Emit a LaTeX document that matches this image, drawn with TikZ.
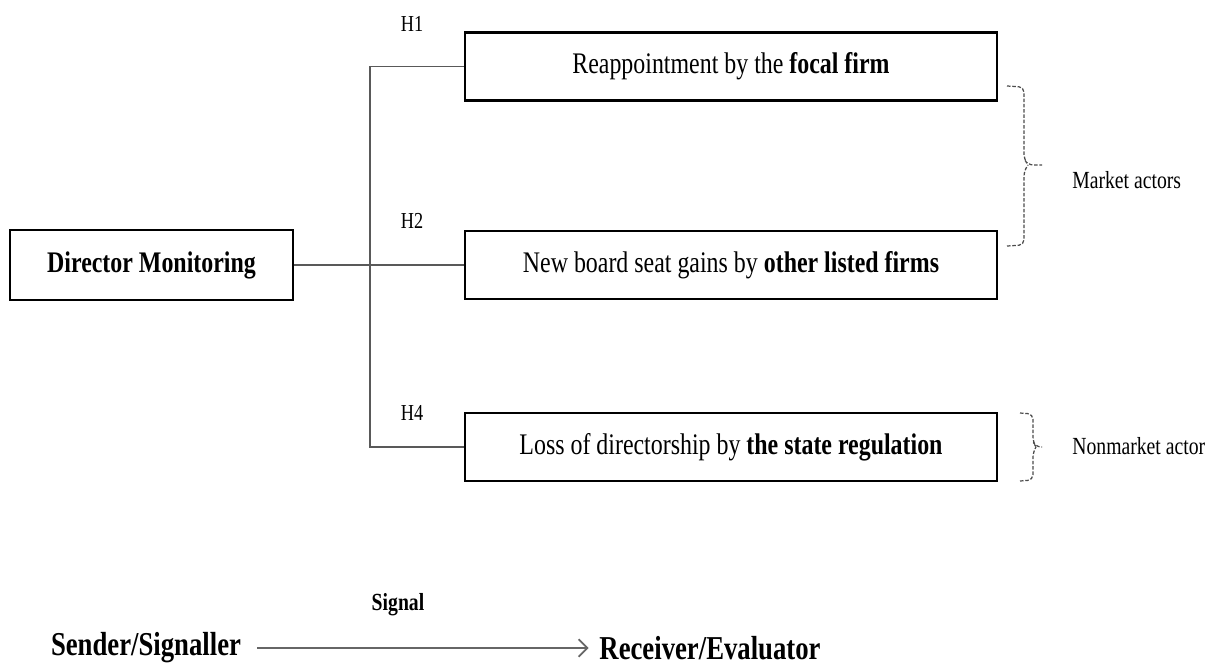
\documentclass[tikz,border=0pt]{standalone}
\usepackage{fontspec}
\setmainfont{Liberation Serif}[FakeStretch=0.8]
\usepackage{tikz}
\usetikzlibrary{positioning,arrows.meta}
\newcommand{\boxsize}{\fontsize{17}{20}\selectfont}
\newcommand{\hypsize}{\fontsize{13}{15}\selectfont}
\newcommand{\actorsize}{\fontsize{14}{16}\selectfont}
\newcommand{\partysize}{\fontsize{19}{22}\selectfont}

\begin{document}
\begin{tikzpicture}[
  box/.style={draw, line width=1.3pt, minimum height=1.36cm, align=center, font=\boxsize, inner sep=0pt},
  outcome/.style={box, minimum width=10.64cm},
  hyp/.style={font=\hypsize, inner sep=0pt},
  link/.style={draw=black!65, line width=0.7pt},
  actorbrace/.style={draw=black!70, dash pattern=on 2pt off 1pt, line width=0.7pt, rounded corners=3pt},
  actor/.style={font=\actorsize, anchor=west, inner sep=0pt},
  party/.style={font=\bfseries\partysize, inner sep=0pt},
  arrow/.style={-{Straight Barb[length=5pt, width=10pt]}, black!60, line width=1pt},
]
\useasboundingbox (0,0) rectangle (24.38,-13.38);

% Sender and the three outcomes
\node[box, minimum width=5.66cm, minimum height=1.4cm, font=\bfseries\boxsize] (monitor) at (3.03,-5.30) {Director Monitoring};

\node[outcome] (reappoint) at (14.62,-1.33) {Reappointment by the \textbf{focal firm}};
\node[outcome] (newseat) at (14.62,-5.30) {New board seat gains by \textbf{other listed firms}};
\node[outcome] (loss) at (14.62,-8.94) {Loss of directorship by \textbf{the state regulation}};

% Hypothesis labels
\node[hyp] (hone) at (8.24,-0.48) {H1};
\node[hyp] (htwo) at (8.24,-4.42) {H2};
\node[hyp] (hfour) at (8.24,-8.26) {H4};

% Links
\coordinate (spine) at (7.40,-5.30);
\draw[link] (reappoint.west) -| (spine) |- (loss.west);
\draw[link] (monitor.east) -- (newseat.west);

% Actor braces
\coordinate (mtip) at (20.84,-3.30);
\coordinate (ntip) at (20.84,-8.94);
\draw[actorbrace] (20.14,-1.72) -- (20.48,-1.74) -- (20.48,-3.18) -- (20.56,-3.30) -- (mtip);
\draw[actorbrace] (20.14,-4.92) -- (20.48,-4.90) -- (20.48,-3.42) -- (20.56,-3.30);
\draw[actorbrace] (20.40,-8.26) -- (20.66,-8.28) -- (20.66,-8.84) -- (20.72,-8.94) -- (ntip);
\draw[actorbrace] (20.40,-9.62) -- (20.66,-9.60) -- (20.66,-9.04) -- (20.72,-8.94);
\node[actor] (market) at (21.44,-3.60) {Market actors};
\node[actor] (nonmarket) at (21.44,-8.92) {Nonmarket actor};

% Signalling line
\node[party] (sender) at (2.92,-12.96) {Sender/Signaller};
\node[party] (receiver) at (14.20,-12.96) {Receiver/Evaluator};
\draw[arrow, shorten <=9pt, shorten >=6pt] (sender) -- (receiver);
\node[font=\bfseries\actorsize, inner sep=0pt] (signal) at (7.96,-12.10) {Signal};

\end{tikzpicture}
\end{document}
